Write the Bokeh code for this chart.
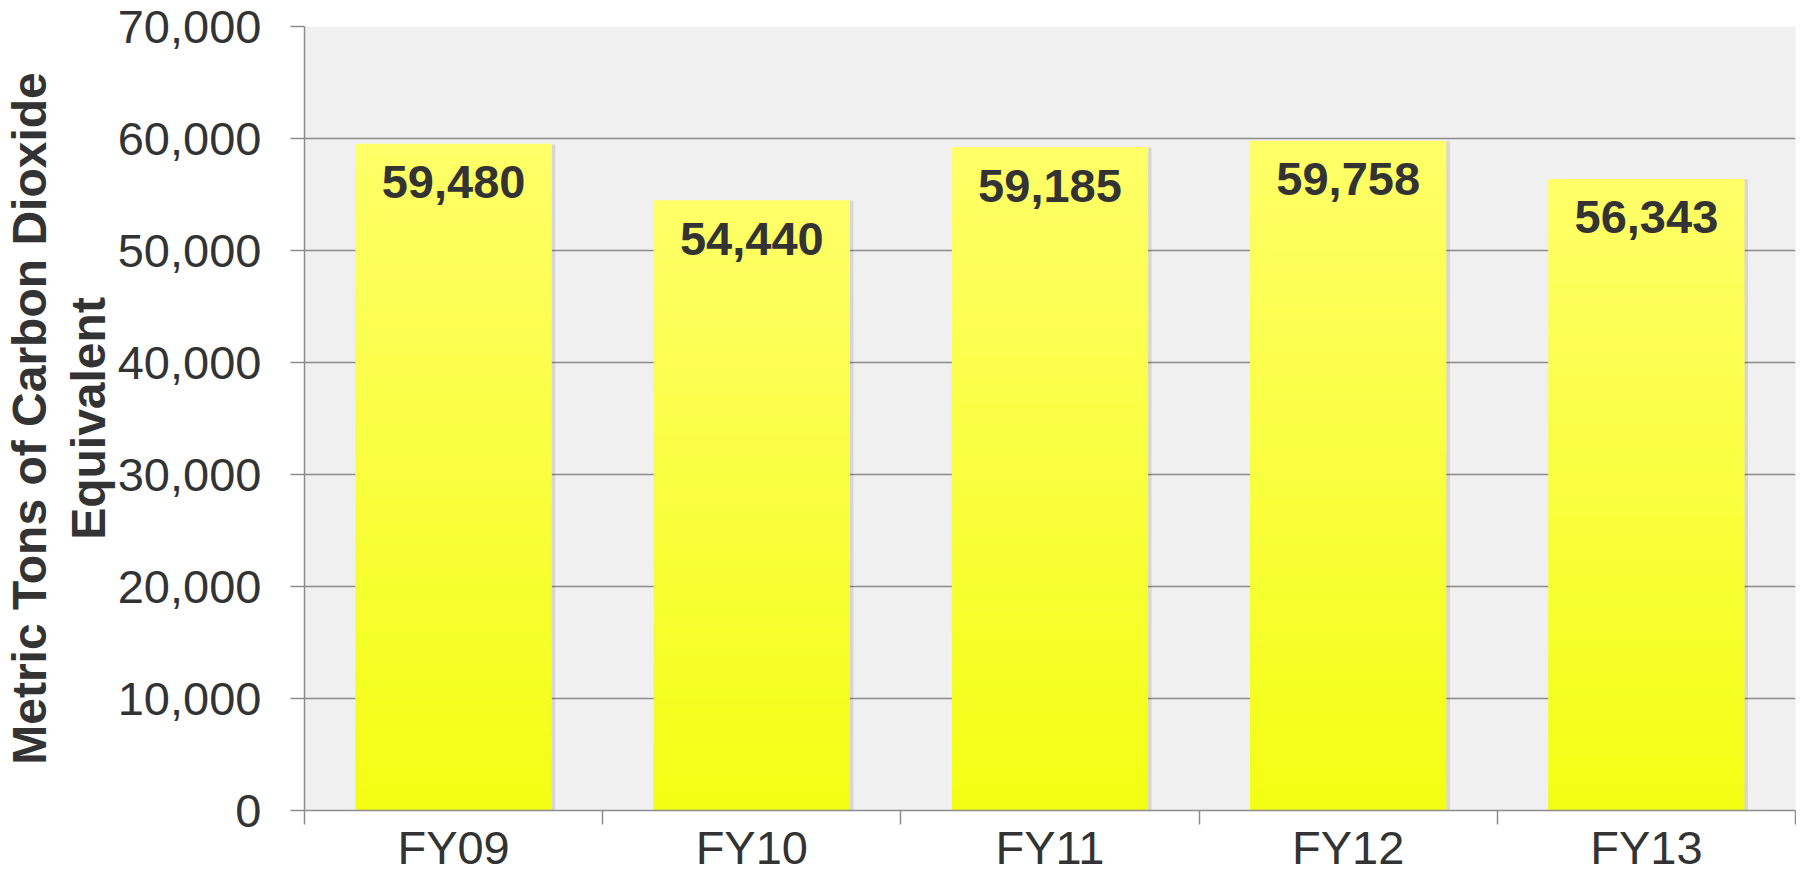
from bokeh.plotting import figure
from bokeh.models import FixedTicker, NumeralTickFormatter, ColumnDataSource, Range1d
from bokeh.core.properties import value
from bokeh.embed import file_html
from bokeh.resources import INLINE

# ---- data ----
categories = ["FY09", "FY10", "FY11", "FY12", "FY13"]
emissions = [59480, 54440, 59185, 59758, 56343]
y_ticks = [0, 10000, 20000, 30000, 40000, 50000, 60000, 70000]
y_title = "Metric Tons of Carbon Dioxide\nEquivalent"

# ---- styling ----
FONT = "Liberation Sans"
TEXT = "#333333"
GRID = "#8C8C8C"
TOP_RGB = (255, 255, 104)
BOT_RGB = (242, 255, 18)
N_SLICES = 60
BAR_W = 0.655

xs = [i + 0.5 for i in range(len(categories))]

# gradient slices built from the data values
sx, sb, st, sc = [], [], [], []
for x, v in zip(xs, emissions):
    for k in range(N_SLICES):
        f = (k + 0.5) / N_SLICES
        r = round(BOT_RGB[0] + (TOP_RGB[0] - BOT_RGB[0]) * f)
        g = round(BOT_RGB[1] + (TOP_RGB[1] - BOT_RGB[1]) * f)
        b = round(BOT_RGB[2] + (TOP_RGB[2] - BOT_RGB[2]) * f)
        sx.append(x)
        sb.append(v * k / N_SLICES)
        st.append(v * (k + 1) / N_SLICES)
        sc.append("#%02x%02x%02x" % (r, g, b))
slices = ColumnDataSource(dict(x=sx, bottom=sb, top=st, color=sc))

p = figure(width=1796, height=876,
           x_range=Range1d(0, len(categories)), y_range=Range1d(0, 70000),
           output_backend="svg", toolbar_location=None,
           min_border_left=303, min_border_right=1, min_border_top=26,
           min_border_bottom=10)
p.background_fill_color = "#F0F0F0"
p.border_fill_color = "white"
p.outline_line_color = None

# grid
p.xgrid.grid_line_color = None
p.ygrid.ticker = FixedTicker(ticks=y_ticks)
p.ygrid.grid_line_color = GRID
p.ygrid.grid_line_width = 1.5

# shadow (offset a few px to the right)
shadow_dx = 4 * len(categories) / 1500.0
p.vbar(x=[x + shadow_dx for x in xs], top=emissions, width=BAR_W, bottom=0,
       fill_color="black", fill_alpha=0.10, line_color=None)

# bars (vertical gradient)
p.vbar(x="x", bottom="bottom", top="top", width=BAR_W, source=slices,
       fill_color="color", line_color="color", line_width=1)

# data labels
labels = ["{:,}".format(v) for v in emissions]
p.text(x=xs, y=emissions, text=labels, text_align="center",
       text_baseline="alphabetic", y_offset=38,
       text_font=value(FONT), text_font_style="bold",
       text_font_size="47px", text_color=TEXT)

# y axis
ya = p.yaxis[0]
ya.ticker = FixedTicker(ticks=y_ticks)
ya.formatter = NumeralTickFormatter(format="0,0")
ya.axis_line_color = GRID
ya.axis_line_width = 1.5
ya.major_tick_line_color = GRID
ya.major_tick_line_width = 1.5
ya.major_tick_out = 14
ya.major_tick_in = 0
ya.minor_tick_line_color = None
ya.major_label_text_font = FONT
ya.major_label_text_font_size = "47px"
ya.major_label_text_color = TEXT
ya.major_label_standoff = 29
ya.axis_label = y_title
ya.axis_label_text_font = FONT
ya.axis_label_text_font_style = "bold"
ya.axis_label_text_font_size = "48px"
ya.axis_label_text_line_height = 1.1
ya.axis_label_text_color = TEXT
ya.axis_label_standoff = 0

# x axis: labels at centers, ticks between categories
xa = p.xaxis[0]
xa.ticker = FixedTicker(ticks=xs, minor_ticks=list(range(len(categories) + 1)))
xa.major_label_overrides = {x: c for x, c in zip(xs, categories)}
xa.axis_line_color = GRID
xa.axis_line_width = 1.5
xa.major_tick_line_color = None
xa.minor_tick_line_color = GRID
xa.minor_tick_line_width = 1.5
xa.minor_tick_out = 14
xa.minor_tick_in = 0
xa.major_label_text_font = FONT
xa.major_label_text_font_size = "47px"
xa.major_label_text_color = TEXT
xa.major_label_standoff = -4

open("out.html", "w").write(file_html(p, INLINE))
